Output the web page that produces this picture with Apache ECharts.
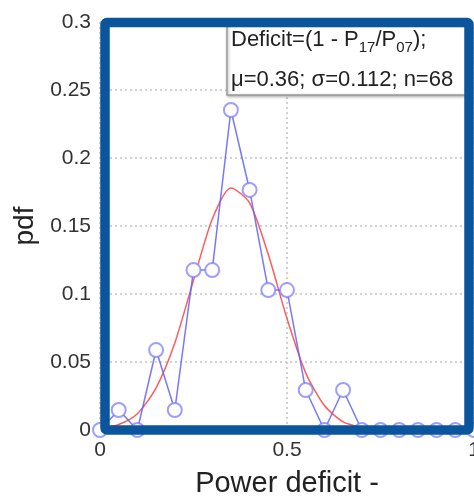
<!DOCTYPE html>
<html><head><meta charset="utf-8">
<script src="https://cdn.jsdelivr.net/npm/echarts@6/dist/echarts.min.js"></script>
<style>html,body{margin:0;padding:0;background:#fff}#c{width:474px;height:496px}</style>
</head><body><div id="c"></div>
<script>
// Bin centres of the power deficit (x axis)
const deficitBins = [0, 0.05, 0.1, 0.15, 0.2, 0.25, 0.3, 0.35, 0.4, 0.45, 0.5, 0.55, 0.6, 0.65, 0.7, 0.75, 0.8, 0.85, 0.9, 0.95, 1.0];
// Observed empirical pdf (blue circles)
const observedPdf = [0, 0.0147, 0, 0.0588, 0.0147, 0.1176, 0.1176, 0.2353, 0.1765, 0.1029, 0.1029, 0.0294, 0, 0.0294, 0, 0, 0, 0, 0, 0, 0];
// Fitted normal curve (red line)
const fittedPdf = [0.001, 0.004, 0.012, 0.031, 0.064, 0.110, 0.155, 0.178, 0.167, 0.129, 0.082, 0.042, 0.018, 0.006, 0.002, 0, 0, 0, 0, 0, 0];
// Axis tick settings
const xTicks = { min: 0, max: 1, interval: 0.5 };
const yTicks = { min: 0, max: 0.3, interval: 0.05 };
const legendLine1 = '{n|Deficit=(1 - P}{s|17}{n|/P}{s|07}{n|);}';
const legendLine2 = '{n|\u03bc=0.36; \u03c3=0.112; n=68}';

const chart = echarts.init(document.getElementById('c'), null, { renderer: 'canvas' });
const pairs = (ys) => deficitBins.map((x, i) => [x, ys[i]]);
const FONT = 'Liberation Sans, Arial, sans-serif';
const tickFont = { fontFamily: FONT, fontSize: 21, color: '#333' };

chart.setOption({
  animation: false,
  backgroundColor: '#fff',
  grid: { left: 100, right: 0, top: 22, bottom: 66, containLabel: false, outerBoundsMode: 'none' },
  xAxis: {
    type: 'value', min: xTicks.min, max: xTicks.max, interval: xTicks.interval,
    name: 'Power deficit -', nameLocation: 'middle', nameGap: 39,
    nameTextStyle: { fontFamily: FONT, fontSize: 29, color: '#222' },
    axisLine: { show: false }, axisTick: { show: false },
    axisLabel: Object.assign({ margin: 10 }, tickFont),
    splitLine: { show: true, lineStyle: { color: '#c4c4c4', type: [2, 3], width: 1.5 } }
  },
  yAxis: {
    type: 'value', min: yTicks.min, max: yTicks.max, interval: yTicks.interval,
    name: 'pdf', nameLocation: 'middle', nameGap: 59,
    nameTextStyle: { fontFamily: FONT, fontSize: 28, color: '#222' },
    axisLine: { show: false }, axisTick: { show: false },
    axisLabel: Object.assign({ margin: 9 }, tickFont),
    splitLine: { show: true, lineStyle: { color: '#c4c4c4', type: [2, 3], width: 1.5 } }
  },
  series: [
    {
      type: 'line', data: pairs(fittedPdf), symbol: 'none', z: 3, smooth: 0.25,
      lineStyle: { color: '#ff5c5c', width: 1.5 }
    },
    {
      type: 'line', data: pairs(observedPdf), symbol: 'emptyCircle', symbolSize: 14, z: 4,
      clip: false,
      lineStyle: { color: 'rgba(95,95,255,0.85)', width: 1.5 },
      itemStyle: { color: 'rgba(125,125,255,0.75)', borderColor: 'rgba(125,125,255,0.75)', borderWidth: 1.5 }
    }
  ],
  graphic: [
    {
      type: 'rect', z: 50,
      shape: { x: 227, y: 24, width: 242, height: 71 },
      style: { fill: '#fff', stroke: '#9a9a9a', lineWidth: 1.5, shadowBlur: 3, shadowColor: 'rgba(0,0,0,0.3)', shadowOffsetX: 1, shadowOffsetY: 1 }
    },
    {
      type: 'text', z: 51, x: 231, y: 20,
      style: {
        text: legendLine1 + '\n' + legendLine2,
        rich: {
          n: { fontFamily: FONT, fontSize: 22, fill: '#222', lineHeight: 40 },
          s: { fontFamily: FONT, fontSize: 15, fill: '#222', lineHeight: 40, padding: [15, 0, 0, 0] }
        }
      }
    },
    {
      type: 'rect', z: 100,
      shape: { x: 105, y: 22.5, width: 364, height: 407.5, r: 2 },
      style: { fill: null, stroke: '#0b559c', lineWidth: 9.5 }
    }
  ]
});
</script></body></html>
